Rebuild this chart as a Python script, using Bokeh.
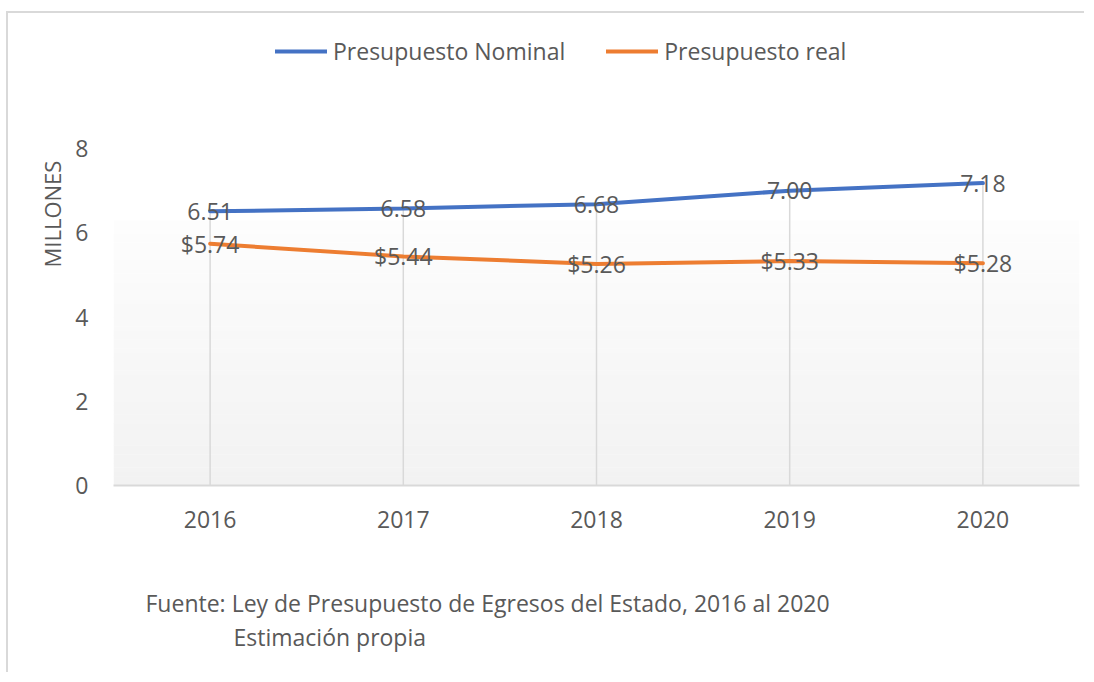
from bokeh.plotting import figure
from bokeh.models import (Range1d, FactorRange, FixedTicker, Legend, LegendItem,
                          Title, ColumnDataSource)
from bokeh.core.properties import value
from bokeh.embed import file_html
from bokeh.resources import INLINE

# ---- data ----
years = ["2016", "2017", "2018", "2019", "2020"]
nominal = [6.51, 6.58, 6.68, 7.00, 7.18]
real = [5.74, 5.44, 5.26, 5.33, 5.28]
nominal_labels = ["6.51", "6.58", "6.68", "7.00", "7.18"]
real_labels = ["$5.74", "$5.44", "$5.26", "$5.33", "$5.28"]
y_ticks = [0, 2, 4, 6, 8]
series_names = ["Presupuesto Nominal", "Presupuesto real"]
source_text = "Fuente: Ley de Presupuesto de Egresos del Estado, 2016 al 2020"
source_text2 = "Estimación propia"
y_title = "MILLONES"

FONT = "Open Sans"
TXT = "#595959"
BLUE = "#4472C4"
ORANGE = "#ED7D31"
FS = "23px"

p = figure(width=1078, height=661, output_backend="svg", toolbar_location=None,
           x_range=FactorRange(*years, range_padding=0),
           y_range=Range1d(0, 10.97),
           min_border_left=105, min_border_right=7, min_border_top=10,
           min_border_bottom=189)
p.margin = (11, 0, 0, 6)
p.styles = {"border-left": "2px solid #d9d9d9", "border-top": "2px solid #d9d9d9"}
p.outline_line_color = None
p.background_fill_color = "white"
p.border_fill_color = "white"
p.grid.visible = False

# plot-area gradient background (decoration)
n_strips = 60
g_top = 6.29
bottoms, tops, cols = [], [], []
for i in range(n_strips):
    b = g_top * i / n_strips
    t = g_top * (i + 1) / n_strips + 0.01
    f = i / (n_strips - 1)
    c = int(round(242 + (253 - 242) * f))
    bottoms.append(b)
    tops.append(min(t, g_top))
    cols.append("#%02x%02x%02x" % (c, c, c))
p.quad(left=[0] * n_strips, right=[len(years)] * n_strips, bottom=bottoms, top=tops,
       fill_color=cols, line_color=None)

# drop lines
p.segment(x0=years, y0=[0] * len(years), x1=years, y1=nominal,
          line_color="#d9d9d9", line_width=1.5)

src = ColumnDataSource(dict(x=years, nom=nominal, real=real,
                            nl=nominal_labels, rl=real_labels))
r1 = p.line("x", "nom", source=src, line_color=BLUE, line_width=4, line_cap="round")
r2 = p.line("x", "real", source=src, line_color=ORANGE, line_width=4, line_cap="round")

p.text("x", "nom", text="nl", source=src, text_align="center", text_baseline="middle",
       text_font=value(FONT), text_font_size=FS, text_color=TXT)
p.text("x", "real", text="rl", source=src, text_align="center", text_baseline="middle",
       text_font=value(FONT), text_font_size=FS, text_color=TXT)

# axes
xa = p.xaxis[0]
xa.axis_line_color = "#d9d9d9"
xa.axis_line_width = 2
xa.major_tick_line_color = None
xa.minor_tick_line_color = None
xa.major_tick_out = 0
xa.major_label_standoff = 25
xa.major_label_text_font = FONT
xa.major_label_text_font_size = FS
xa.major_label_text_color = TXT

ya = p.yaxis[0]
ya.ticker = FixedTicker(ticks=y_ticks)
ya.axis_line_color = None
ya.major_tick_line_color = None
ya.minor_tick_line_color = None
ya.major_tick_out = 0
ya.major_label_standoff = 25
ya.major_label_text_font = FONT
ya.major_label_text_font_size = FS
ya.major_label_text_color = TXT

# y-axis title (placed as a side title so it can sit higher, like the reference)
ytitle = Title(text=y_title, align="left", offset=218, standoff=12,
               text_font=FONT, text_font_size="22px", text_color=TXT,
               text_font_style="normal")
p.add_layout(ytitle, "left")

legend = Legend(items=[LegendItem(label=series_names[0], renderers=[r1]),
                       LegendItem(label=series_names[1], renderers=[r2])],
                orientation="horizontal", location=(162, 418),
                glyph_width=52, glyph_height=24, label_height=24,
                label_standoff=6, spacing=41, padding=0, margin=0,
                label_text_font=FONT, label_text_font_size=FS,
                label_text_color=TXT, border_line_color=None,
                background_fill_alpha=0)
p.add_layout(legend)

spacer = Title(text=" ", standoff=20, text_font=FONT, text_font_size=FS)
t1 = Title(text=source_text, align="left", offset=32, standoff=0,
           text_font=FONT, text_font_size=FS, text_color=TXT,
           text_font_style="normal")
t2 = Title(text=source_text2, align="left", offset=120, standoff=0,
           text_font=FONT, text_font_size=FS, text_color=TXT,
           text_font_style="normal")
p.add_layout(spacer, "below")
p.add_layout(t1, "below")
p.add_layout(t2, "below")

open("out.html", "w").write(file_html(p, INLINE))
